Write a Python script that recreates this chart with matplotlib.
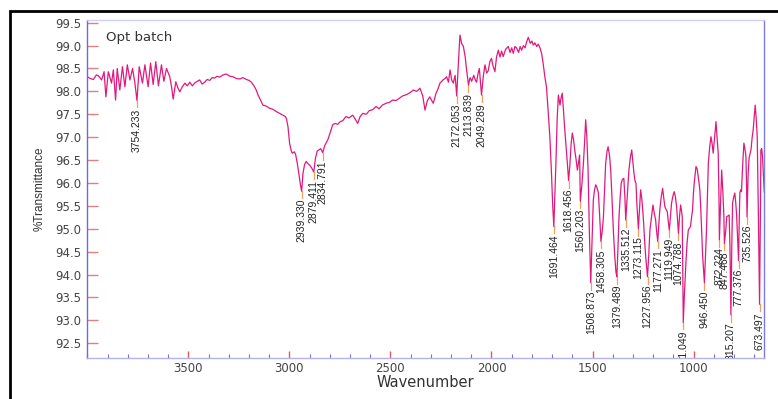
import matplotlib
matplotlib.use("Agg")
import matplotlib.pyplot as plt
from matplotlib.patches import Rectangle
from matplotlib.ticker import MultipleLocator
import numpy as np

# ---------------- data ----------------
wavenumber = [
    4000, 3985, 3970, 3955, 3945, 3929, 3917, 3908, 3896, 3880, 3871, 3860, 3852, 3839, 3826, 3814,
    3802, 3789, 3776, 3765, 3754.233, 3743, 3727, 3715, 3699, 3687, 3674, 3661, 3648, 3633, 3621,
    3608, 3592, 3583, 3575, 3562, 3552, 3542, 3530, 3517, 3505, 3493, 3480, 3469, 3456, 3444, 3432,
    3419, 3407, 3394, 3382, 3370, 3358, 3345, 3328, 3312, 3295, 3279, 3262, 3246, 3230, 3213, 3200,
    3188, 3175, 3164, 3155, 3147, 3131, 3115, 3098, 3082, 3065, 3048, 3032, 3020, 3015, 3007, 2999,
    2992, 2986, 2975, 2969, 2961, 2953, 2945, 2939.330, 2933, 2925, 2917, 2908, 2900, 2890, 2879.411,
    2871, 2862, 2854, 2845, 2834.791, 2825, 2810, 2798, 2786, 2774, 2761, 2748, 2736, 2720, 2705,
    2687, 2675, 2662, 2650, 2637, 2620, 2604, 2588, 2571, 2556, 2540, 2522, 2505, 2489, 2472, 2456,
    2440, 2420, 2400, 2387, 2370, 2354, 2340, 2329, 2317, 2305, 2296, 2288, 2275, 2265, 2255, 2240,
    2230, 2222, 2213, 2205, 2197, 2189, 2180, 2172.053, 2164, 2156, 2148, 2139, 2130, 2124, 2113.839,
    2106, 2098, 2088, 2080, 2074, 2066, 2060, 2049.289, 2040, 2032, 2024, 2016, 2008, 2000, 1992,
    1983, 1975, 1966, 1958, 1950, 1942, 1930, 1917, 1908, 1900, 1892, 1884, 1876, 1866, 1858, 1851,
    1842, 1834, 1826, 1818, 1808, 1800, 1793, 1785, 1776, 1769, 1760, 1752, 1744, 1736, 1728, 1720,
    1711, 1703, 1697, 1691.464, 1685, 1680, 1675, 1669, 1661, 1656, 1650, 1644, 1638, 1630, 1624,
    1618.456, 1612, 1606, 1600, 1594, 1588, 1581, 1575, 1569, 1564, 1560.203, 1552, 1545, 1538, 1534,
    1528, 1522, 1516, 1508.873, 1502, 1496, 1490, 1484, 1478, 1471, 1465, 1458.305, 1452, 1446, 1440,
    1435, 1428, 1423, 1416, 1410, 1404, 1397, 1390, 1384, 1379.489, 1374, 1369, 1363, 1358, 1352,
    1345, 1340, 1335.512, 1328, 1320, 1313, 1306, 1300, 1295, 1290, 1285, 1280, 1273.115, 1268, 1262,
    1256, 1249, 1243, 1237, 1227.956, 1222, 1216, 1208, 1201, 1195, 1188, 1183, 1177.271, 1172, 1167,
    1160, 1153, 1147, 1142, 1136, 1130, 1125, 1119.949, 1114, 1109, 1102, 1096, 1090, 1084, 1079,
    1074.788, 1069, 1064, 1060, 1056, 1051.049, 1045, 1038, 1032, 1026, 1020, 1015, 1010, 1005, 1001,
    997, 992, 988, 982, 977, 973, 969, 965, 960, 955, 946.450, 941, 936, 931, 927, 920, 914, 908, 903,
    896, 889, 884, 878, 874, 872.224, 866, 861, 855, 850, 847.468, 840, 836, 830, 824, 820, 815.207,
    811, 807, 801, 796, 791, 787, 782, 777.376, 774, 771, 767, 763, 757, 751, 746, 741, 738, 735.526,
    730, 725, 720, 716, 710, 705, 700, 695, 690, 685, 680, 673.497, 669, 667, 663, 659, 655, 650,
]
transmittance = [
    98.32, 98.28, 98.26, 98.36, 98.34, 98.25, 98.43, 97.88, 98.43, 98.18, 98.47, 97.81, 98.50, 98.03, 98.54, 98.10,
    98.58, 98.25, 98.50, 98.20, 97.80, 98.54, 98.18, 98.58, 98.10, 98.62, 98.15, 98.65, 98.12, 98.58, 98.22,
    98.50, 98.32, 98.10, 97.83, 98.21, 98.08, 97.99, 98.10, 98.18, 98.12, 98.20, 98.12, 98.18, 98.22, 98.25, 98.16,
    98.20, 98.26, 98.24, 98.30, 98.29, 98.33, 98.31, 98.36, 98.38, 98.33, 98.32, 98.28, 98.27, 98.30, 98.26, 98.24,
    98.20, 98.12, 98.03, 97.92, 97.85, 97.70, 97.68, 97.63, 97.61, 97.56, 97.52, 97.48, 97.45, 97.41, 97.23, 96.87,
    96.72, 96.65, 96.68, 96.62, 96.43, 96.20, 95.95, 95.82, 96.20, 96.40, 96.47, 96.42, 96.39, 96.33, 96.24,
    96.54, 96.70, 96.72, 96.75, 96.66, 96.82, 96.94, 97.10, 97.27, 97.30, 97.28, 97.34, 97.36, 97.45, 97.42,
    97.48, 97.40, 97.30, 97.45, 97.52, 97.50, 97.58, 97.60, 97.67, 97.62, 97.70, 97.74, 97.76, 97.81, 97.80, 97.85,
    97.90, 97.93, 97.98, 98.03, 98.00, 98.07, 97.90, 97.59, 97.80, 97.88, 97.80, 97.74, 97.95, 98.05, 98.18, 98.25,
    98.28, 98.32, 98.20, 98.47, 98.25, 98.18, 98.35, 97.90, 98.60, 99.23, 99.05, 98.98, 98.75, 98.50, 98.14,
    98.30, 98.22, 98.35, 98.25, 98.20, 98.40, 98.50, 97.92, 98.35, 98.58, 98.40, 98.45, 98.65, 98.72, 98.55,
    98.43, 98.75, 98.90, 98.75, 98.88, 98.76, 98.92, 98.98, 98.85, 98.95, 98.83, 98.98, 98.95, 98.85, 98.98, 98.90,
    99.00, 98.95, 99.08, 99.18, 99.05, 99.10, 99.01, 99.06, 98.98, 99.03, 98.95, 98.83, 98.60, 98.32, 98.10, 97.60,
    97.00, 96.20, 95.50, 95.05, 95.90, 96.60, 97.40, 97.92, 97.70, 97.85, 97.96, 97.60, 97.20, 96.75, 96.40,
    96.05, 96.40, 96.85, 97.09, 96.95, 96.72, 96.50, 96.28, 96.45, 96.61, 95.60, 96.00, 96.43, 97.00, 97.38,
    97.00, 96.28, 95.00, 93.82, 94.80, 95.63, 95.85, 95.96, 95.90, 95.78, 95.30, 94.72, 94.95, 95.26, 95.90,
    96.43, 96.70, 96.79, 96.60, 96.28, 95.70, 94.97, 94.40, 94.05, 93.95, 94.60, 95.26, 95.70, 95.99, 96.08,
    96.10, 95.70, 95.19, 95.70, 96.28, 96.55, 96.72, 96.45, 96.21, 96.05, 95.99, 95.50, 95.00, 95.40, 95.85,
    95.65, 95.26, 94.80, 94.39, 93.95, 94.40, 94.97, 95.26, 95.52, 95.35, 95.20, 94.95, 94.72, 95.10, 95.41,
    95.70, 95.88, 95.65, 95.48, 95.42, 95.37, 95.15, 94.97, 95.30, 95.56, 95.72, 95.81, 95.70, 95.48, 95.15,
    94.90, 95.30, 95.52, 95.40, 95.26, 92.95, 93.60, 94.25, 94.70, 94.97, 95.02, 95.05, 95.25, 95.41, 95.75,
    95.99, 96.20, 96.36, 96.30, 96.14, 96.00, 95.85, 95.50, 94.97, 94.40, 93.82, 94.40, 94.97, 95.80, 96.43, 96.80, 97.01, 96.85, 96.65,
    97.00, 97.34, 97.00, 96.65, 95.60, 94.76, 95.60, 96.28, 95.80, 95.26, 94.68, 95.00, 95.26, 95.28, 95.30, 94.60, 93.12,
    94.60, 95.56, 95.70, 95.78, 95.55, 95.30, 94.80, 94.30, 95.20, 95.78, 95.85, 95.81, 96.40, 96.87, 96.75, 96.58, 96.00, 95.26,
    96.20, 96.55, 96.65, 96.72, 97.00, 97.16, 97.45, 97.70, 97.40, 97.01, 95.50, 93.35, 95.50, 96.72, 96.75, 96.58, 96.20, 95.80,
]

peak_labels = [
    "3754.233", "2939.330", "2879.411", "2834.791", "2172.053", "2113.839", "2049.289",
    "1691.464", "1618.456", "1560.203", "1508.873", "1458.305", "1379.489", "1335.512",
    "1273.115", "1227.956", "1177.271", "1119.949", "1074.788", "1051.049", "946.450",
    "872.224", "847.468", "815.207", "777.376", "735.526", "673.497",
]

x_ticks = [3500, 3000, 2500, 2000, 1500, 1000]
y_ticks = [92.5, 93.0, 93.5, 94.0, 94.5, 95.0, 95.5, 96.0, 96.5, 97.0, 97.5, 98.0, 98.5, 99.0, 99.5]

# ---------------- figure ----------------
fig = plt.figure(figsize=(7.78, 3.99), dpi=100)
fig.patch.set_facecolor("white")
ax = fig.add_axes([0.1122, 0.102, 0.8702, 0.848])

line_color = "#e2197c"
ax.plot(wavenumber, transmittance, color=line_color, lw=0.9)

ax.set_xlim(4000, 650)
ax.set_ylim(92.17, 99.56)

# peak annotations
lookup = dict(zip(wavenumber, transmittance))
narrow = ["Liberation Sans Narrow", "Liberation Sans", "DejaVu Sans"]
for lab in peak_labels:
    w = float(lab)
    t = lookup[w]
    drop = 0.15
    ax.plot([w, w], [t, t - drop], color="#f2a060", lw=0.9, zorder=1)
    ax.text(w, t - drop - 0.02, lab, rotation=90, ha="center", va="top",
            fontsize=7.5, family=narrow, color="#222222", clip_on=True)

# ticks
ax.set_xticks(x_ticks)
ax.set_xticklabels([str(v) for v in x_ticks])
ax.xaxis.set_minor_locator(MultipleLocator(100))
ax.set_yticks(y_ticks)
ax.set_yticklabels([f"{v:.1f}" for v in y_ticks])
ax.tick_params(axis="x", which="major", direction="in", length=5, width=1,
               color="#e05a5a", labelsize=8.5, labelcolor="#444444", pad=3)
ax.tick_params(axis="x", which="minor", direction="in", length=3, width=0.8,
               color="#7070d8")
ax.tick_params(axis="y", which="major", direction="in", length=8, width=1,
               color="#e08080", labelsize=8.5, labelcolor="#444444", pad=4)
for lbl in ax.get_xticklabels() + ax.get_yticklabels():
    lbl.set_family(["DejaVu Sans"])

# spines
ax.spines["left"].set_color("#6a6ae6")
ax.spines["right"].set_color("#7a7ae8")
ax.spines["top"].set_color("#cfcff0")
ax.spines["bottom"].set_color("#b4b4ea")
for s in ax.spines.values():
    s.set_linewidth(1.0)

ax.set_xlabel("Wavenumber", fontsize=10.5, family=["DejaVu Sans"], color="#333333")
ax.xaxis.set_label_coords(0.5, -0.05)
ax.set_ylabel("%Transmittance", fontsize=8.5, family=narrow, color="#333333")
ax.yaxis.set_label_coords(-0.062, 0.5)

ax.text(0.028, 0.947, "Opt batch", transform=ax.transAxes, fontsize=9.5,
        family=["DejaVu Sans"], color="#333333", va="center", ha="left")

# outer black frame (partially outside the image)
fig.patches.append(Rectangle((0.013, -0.1), 1.2, 0.1 + 0.9725, transform=fig.transFigure,
                             fill=False, ec="black", lw=2.0))

fig.savefig("out.png", dpi=100)
